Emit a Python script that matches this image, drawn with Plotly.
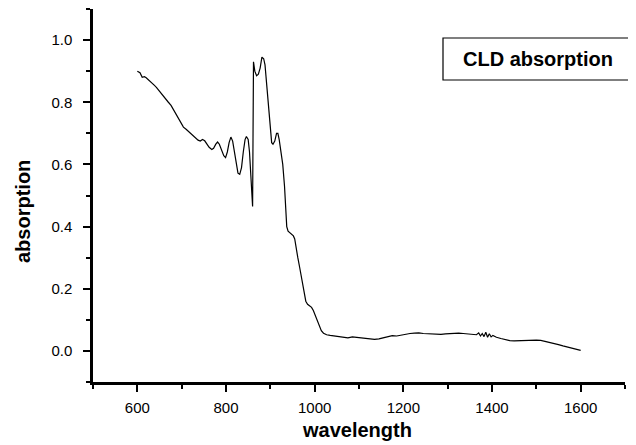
import plotly.graph_objects as go

wavelength = [
    600, 606, 611, 616, 620, 626, 632, 638, 643, 650, 655, 660, 665, 670, 676, 682, 688, 694, 699, 704,
    710, 716, 721, 727, 732, 737, 742, 747, 752, 757, 762, 768, 772, 777, 781, 785, 790, 795, 799, 803,
    807, 811, 815, 819, 823, 827, 831, 835, 839, 843, 846, 850, 853, 856, 858, 860, 861, 862, 865, 869,
    873, 877, 881, 885, 888, 891, 894, 897, 900, 903, 906, 910, 914, 917, 920, 924, 928, 932, 935, 937,
    940, 944, 948, 952, 955, 958, 962, 966, 970, 974, 977, 980, 984, 988, 993, 997, 1001, 1005, 1010, 1015,
    1020, 1027, 1035, 1045, 1055, 1065, 1075, 1085, 1095, 1105, 1115, 1125, 1135, 1145, 1155, 1165, 1175, 1185, 1195, 1205,
    1215, 1225, 1235, 1245, 1255, 1265, 1275, 1285, 1295, 1305, 1315, 1325, 1335, 1345, 1355, 1365, 1370, 1374, 1378, 1382,
    1386, 1390, 1394, 1398, 1402, 1410, 1420, 1430, 1440, 1450, 1460, 1470, 1480, 1490, 1500, 1510, 1520, 1530, 1540, 1550,
    1560, 1570, 1580, 1590, 1600,
]
absorption = [
    0.900, 0.895, 0.880, 0.882, 0.879, 0.870, 0.862, 0.855, 0.848, 0.835, 0.825, 0.818, 0.810, 0.800, 0.790, 0.775, 0.762, 0.745, 0.730, 0.720,
    0.713, 0.705, 0.700, 0.690, 0.683, 0.678, 0.675, 0.680, 0.676, 0.665, 0.655, 0.648, 0.652, 0.665, 0.672, 0.665, 0.645, 0.628, 0.622, 0.640,
    0.670, 0.688, 0.675, 0.640, 0.600, 0.572, 0.568, 0.590, 0.640, 0.680, 0.690, 0.680, 0.640, 0.570, 0.500, 0.465, 0.700, 0.930, 0.900, 0.885,
    0.890, 0.910, 0.945, 0.940, 0.920, 0.870, 0.820, 0.760, 0.710, 0.670, 0.665, 0.675, 0.700, 0.700, 0.680, 0.640, 0.600, 0.530, 0.460, 0.400,
    0.385, 0.380, 0.375, 0.370, 0.360, 0.330, 0.300, 0.270, 0.240, 0.210, 0.180, 0.160, 0.150, 0.145, 0.140, 0.130, 0.115, 0.100, 0.080, 0.065,
    0.057, 0.052, 0.050, 0.048, 0.046, 0.044, 0.042, 0.045, 0.043, 0.041, 0.040, 0.038, 0.037, 0.039, 0.043, 0.047, 0.049, 0.048, 0.051, 0.054,
    0.056, 0.057, 0.058, 0.056, 0.055, 0.053, 0.052, 0.053, 0.055, 0.056, 0.057, 0.057, 0.056, 0.055, 0.054, 0.052, 0.058, 0.048, 0.056, 0.046,
    0.060, 0.044, 0.055, 0.045, 0.050, 0.044, 0.040, 0.036, 0.033, 0.032, 0.033, 0.034, 0.034, 0.035, 0.035, 0.034, 0.031, 0.027, 0.023, 0.020,
    0.016, 0.013, 0.010, 0.006, 0.002,
]

x_tick_vals = [600, 800, 1000, 1200, 1400, 1600]
y_tick_vals = [0.0, 0.2, 0.4, 0.6, 0.8, 1.0]
legend_label = "CLD absorption"
x_title = "wavelength"
y_title = "absorption"

FONT = "Liberation Sans, Arial, sans-serif"

# page body adds an 8px margin; compensate so the figure lands where the reference is
OFF = 8
W, H = 644 - OFF, 445 - OFF
L, T = 93 - OFF, 9 - OFF
R = W - (625 - OFF)
B = H - (382 - OFF)

fig = go.Figure()
fig.add_trace(go.Scatter(
    x=wavelength, y=absorption, mode="lines",
    line=dict(color="black", width=1.2),
    name=legend_label, showlegend=False,
))

fig.update_layout(
    width=W, height=H,
    margin=dict(l=L, r=R, t=T, b=B),
    paper_bgcolor="white", plot_bgcolor="white",
    font=dict(family=FONT, color="black", size=15),
    xaxis=dict(
        range=[500, 1700], tickvals=x_tick_vals, ticks="outside", ticklen=7, tickwidth=2,
        tickcolor="black", showline=True, linecolor="black", linewidth=2.5,
        showgrid=False, zeroline=False, ticklabelstandoff=3, automargin=False,
        tickfont=dict(size=15, family=FONT),
        minor=dict(dtick=100, tick0=500, ticks="outside", ticklen=4, tickwidth=2, tickcolor="black", showgrid=False),
    ),
    yaxis=dict(
        range=[-0.1, 1.1], tickvals=y_tick_vals, tickformat=".1f", ticks="outside", ticklen=7, tickwidth=2,
        tickcolor="black", showline=True, linecolor="black", linewidth=2.5,
        showgrid=False, zeroline=False, ticklabelstandoff=8, automargin=False,
        tickfont=dict(size=15, family=FONT),
        minor=dict(dtick=0.1, tick0=0.1, ticks="outside", ticklen=4, tickwidth=2, tickcolor="black", showgrid=False),
    ),
)

pw, ph = W - L - R, H - T - B

def px_x(p):
    return (p - OFF - L) / pw

def px_y(p):
    return (H - B - (p - OFF)) / ph

# legend box (open on the right: it runs off the edge in the reference)
bx0, bx1 = px_x(443), px_x(640)
by0, by1 = px_y(80), px_y(38)
fig.add_shape(type="path", xref="paper", yref="paper",
              path=f"M {bx1} {by1} L {bx0} {by1} L {bx0} {by0} L {bx1} {by0}",
              line=dict(color="black", width=1.2))
fig.add_annotation(xref="paper", yref="paper", x=px_x(461), y=px_y(59),
                   xanchor="left", yanchor="middle", showarrow=False,
                   text="<b>" + legend_label + "</b>", font=dict(size=20, family=FONT))

# axis titles
fig.add_annotation(xref="paper", yref="paper", x=px_x(357), y=px_y(430),
                   xanchor="center", yanchor="middle", showarrow=False,
                   text="<b>" + x_title + "</b>", font=dict(size=20, family=FONT))
fig.add_annotation(xref="paper", yref="paper", x=px_x(23), y=px_y(212),
                   xanchor="center", yanchor="middle", showarrow=False, textangle=-90,
                   text="<b>" + y_title + "</b>", font=dict(size=20, family=FONT))

fig.write_html("out.html")
